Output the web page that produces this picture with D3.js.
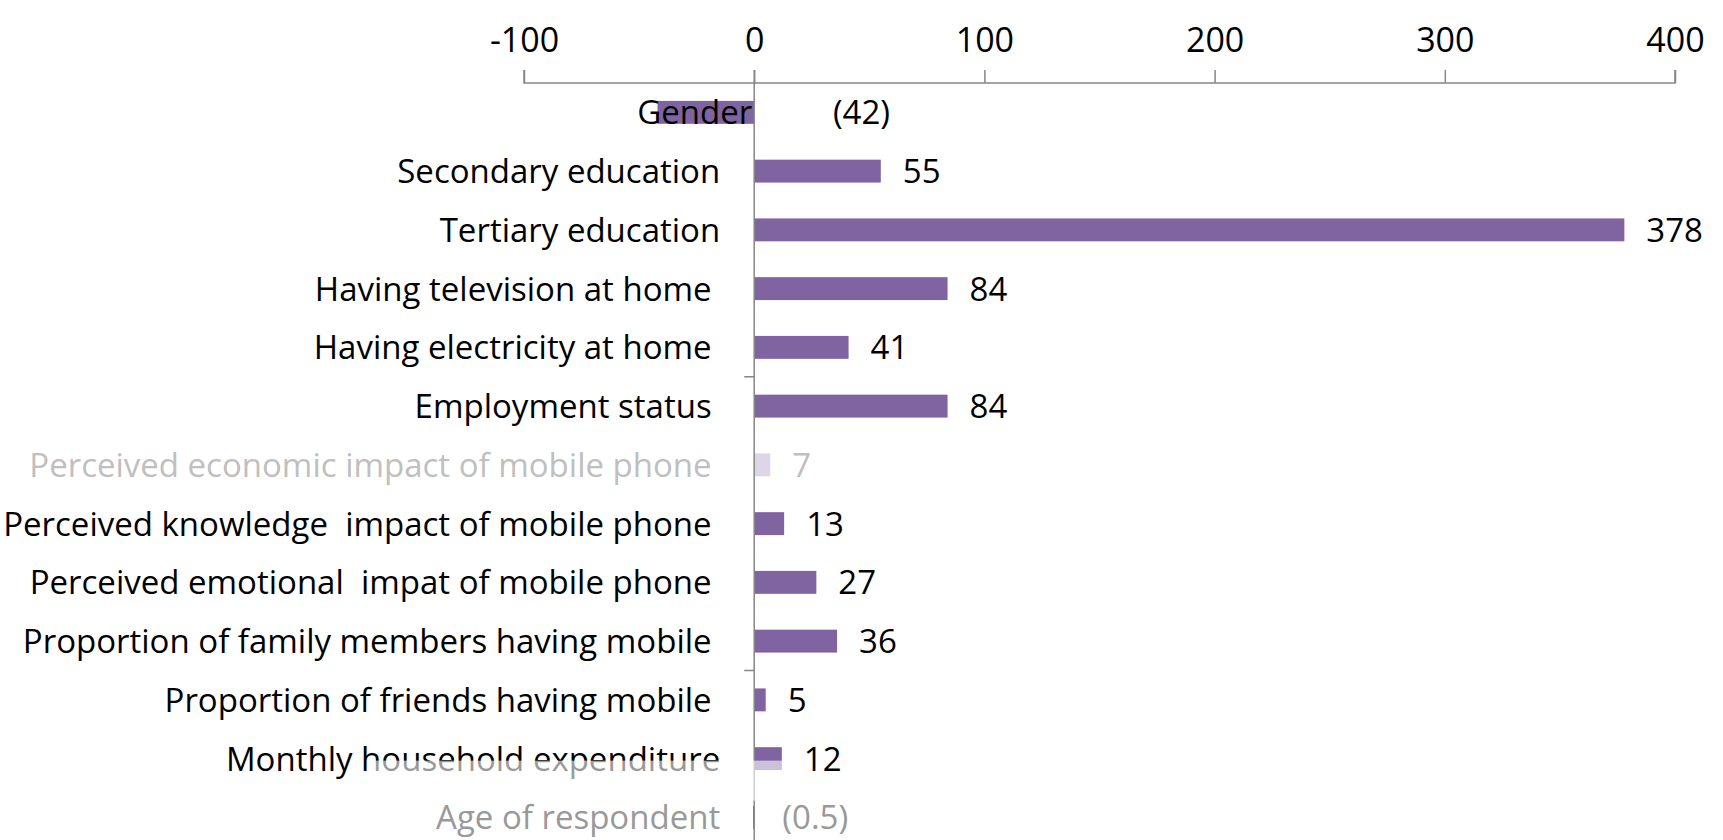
<!DOCTYPE html>
<html>
<head>
<meta charset="utf-8">
<script src="https://cdnjs.cloudflare.com/ajax/libs/d3/7.8.5/d3.min.js"></script>
<style>
  body { margin: 0; background: #fff; overflow: hidden; }
  text { font-family: "Open Sans", "Noto Sans", sans-serif; white-space: pre; }
</style>
</head>
<body>
<svg id="chart"></svg>
<script>
// data
var categories = [
	"Gender",
	"Secondary education",
	"Tertiary education",
	"Having television at home ",
	"Having electricity at home ",
	"Employment status ",
	"Perceived economic impact of mobile phone ",
	"Perceived knowledge  impact of mobile phone ",
	"Perceived emotional  impat of mobile phone ",
	"Proportion of family members having mobile ",
	"Proportion of friends having mobile ",
	"Monthly household expenditure",
	"Age of respondent"
];
var values = [-42, 55, 378, 84, 41, 84, 7, 13, 27, 36, 5, 12, -0.5];
var faded = ["Perceived economic impact of mobile phone "]; // rows drawn washed out
var ticks = [-100, 0, 100, 200, 300, 400];

var width = 1723,
	height = 840,
	svg = d3.select("#chart").attr("width", width).attr("height", height);

var purple = "#8064A2",
	axisColor = "#868686";

// scales
var x = d3.scaleLinear().domain([-100, 400]).range([524, 1675]);
var y = d3.scaleBand().domain(categories).range([83, 83 + 58.75 * categories.length]).paddingInner(0.61).paddingOuter(0.305);

var rows = categories.map(function (c, i) { return { name: c, value: values[i] }; });

function textColor(d) {
	if (faded.indexOf(d.name) >= 0) return "#BFBFBF";
	if (d.name === "Age of respondent") return "#999999";
	return "#000";
}

// top value axis
var xAxis = svg.append("g")
	.attr("transform", "translate(0,83)")
	.call(d3.axisTop(x).tickValues(ticks).tickSize(13).tickPadding(18).tickFormat(function (d) { return String(d); }));
xAxis.selectAll("path").attr("stroke", axisColor).attr("stroke-width", 1.5).attr("d", "M" + x(-100) + ",-13V0H" + x(400) + "V-13");
xAxis.selectAll("line").attr("stroke", axisColor).attr("stroke-width", 1.5);
xAxis.selectAll("text").attr("fill", "#000").style("font-size", "34px").attr("font-family", null);

// bars
svg.append("g").selectAll("rect")
	.data(rows)
	.enter().append("rect")
	.attr("x", function (d) { return x(Math.min(0, d.value)); })
	.attr("y", function (d) { return y(d.name); })
	.attr("width", function (d) { return Math.abs(x(d.value) - x(0)); })
	.attr("height", y.bandwidth())
	.attr("fill", function (d) { return faded.indexOf(d.name) >= 0 ? "#DDD6E8" : purple; });

// category labels
svg.append("g").selectAll("text")
	.data(rows)
	.enter().append("text")
	.attr("x", function (d) { return d.name === "Gender" ? x(0) - 2 : x(0) - 34; })
	.attr("y", function (d) { return y(d.name) + y.bandwidth() / 2; })
	.attr("dy", "0.36em")
	.attr("text-anchor", "end")
	.style("font-size", "33px")
	.attr("fill", textColor)
	.text(function (d) { return d.name; });

// value labels, negatives in brackets
svg.append("g").selectAll("text")
	.data(rows)
	.enter().append("text")
	.attr("x", function (d) { return d.value < 0 ? x(-d.value) - 18 + (d.value > -1 ? 45 : 0) : x(d.value) + 22; })
	.attr("y", function (d) { return y(d.name) + y.bandwidth() / 2; })
	.attr("dy", "0.36em")
	.style("font-size", "33px")
	.attr("fill", textColor)
	.text(function (d) { return d.value < 0 ? "(" + Math.abs(d.value) + ")" : d.value; });

// vertical category axis through zero, with a tick every 5 categories
svg.append("line")
	.attr("x1", x(0)).attr("x2", x(0))
	.attr("y1", 70).attr("y2", height)
	.attr("stroke", axisColor).attr("stroke-width", 1.5);

svg.append("g").selectAll("line")
	.data([5, 10])
	.enter().append("line")
	.attr("x1", x(0) - 10).attr("x2", x(0))
	.attr("y1", function (k) { return y(categories[k]) - y.step() * y.paddingInner() / 2; })
	.attr("y2", function (k) { return y(categories[k]) - y.step() * y.paddingInner() / 2; })
	.attr("stroke", axisColor).attr("stroke-width", 1.5);

// washed-out band over the bottom, like the fade in the picture
svg.append("rect")
	.attr("x", 372).attr("y", y("Monthly household expenditure") + y.bandwidth() / 2 + 2)
	.attr("width", 440).attr("height", 40)
	.attr("fill", "#fff").attr("opacity", 0.6);
</script>
</body>
</html>
